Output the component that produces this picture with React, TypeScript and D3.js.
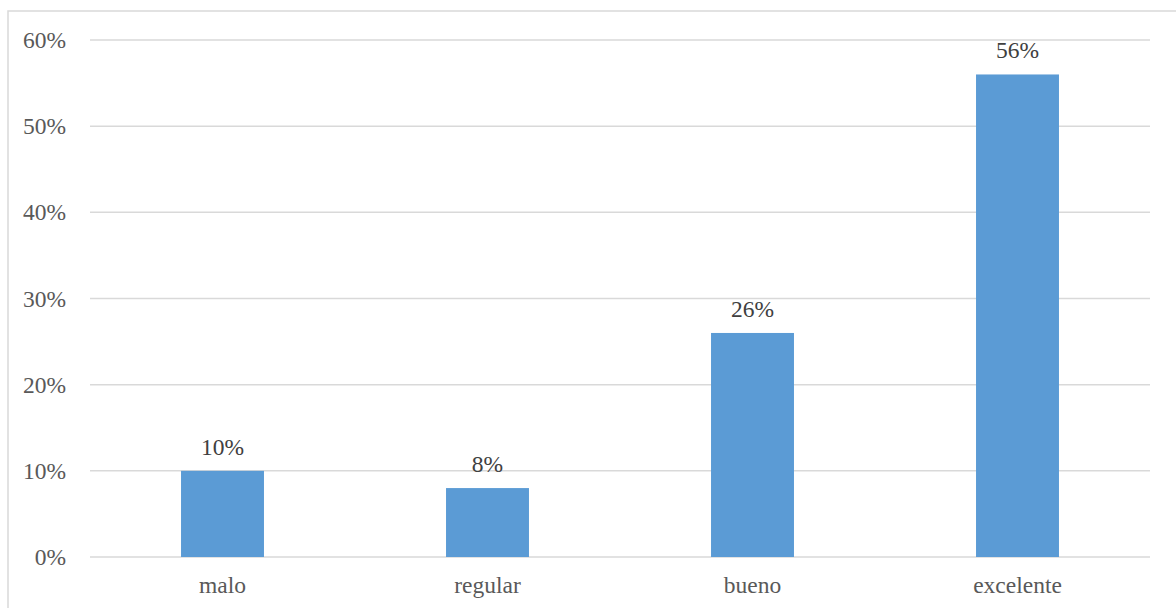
import React from "react";
import * as d3 from "d3";

const categories = ["malo", "regular", "bueno", "excelente"];
const values = [0.10, 0.08, 0.26, 0.56];
const yTicks = [0, 0.1, 0.2, 0.3, 0.4, 0.5, 0.6];

const W = 1176;
const H = 608;
const margin = { left: 90, right: 26, top: 40, bottom: 51 };

export default function App() {
  const x = d3
    .scaleBand<string>()
    .domain(categories)
    .range([margin.left, W - margin.right])
    .paddingInner(0.687)
    .paddingOuter(0.3435);
  const y = d3
    .scaleLinear()
    .domain([0, 0.6])
    .range([H - margin.bottom, margin.top]);
  const fmt = d3.format(".0%");
  const textStyle = { fontFamily: "Liberation Serif", fontSize: 23.5 };

  return (
    <div style={{ position: "absolute", left: 0, top: 0 }}>
      <svg width={W} height={H} style={{ display: "block" }}>
        <rect x={0} y={0} width={W} height={H} fill="#ffffff" />
        <rect
          x={8}
          y={11}
          width={W + 10}
          height={H + 10}
          fill="none"
          stroke="#d9d9d9"
          strokeWidth={1.5}
        />
        {yTicks.map((t) => (
          <g key={t}>
            <line
              x1={margin.left}
              x2={W - margin.right}
              y1={y(t)}
              y2={y(t)}
              stroke="#d9d9d9"
              strokeWidth={1.5}
            />
            <text
              x={66}
              y={y(t) + 8}
              textAnchor="end"
              style={textStyle}
              fill="#595959"
            >
              {fmt(t)}
            </text>
          </g>
        ))}
        {categories.map((c, i) => (
          <g key={c}>
            <rect
              x={x(c)}
              y={y(values[i])}
              width={x.bandwidth()}
              height={y(0) - y(values[i])}
              fill="#5b9bd5"
            />
            <text
              x={(x(c) as number) + x.bandwidth() / 2}
              y={y(values[i]) - 16}
              textAnchor="middle"
              style={textStyle}
              fill="#404040"
            >
              {fmt(values[i])}
            </text>
            <text
              x={(x(c) as number) + x.bandwidth() / 2}
              y={y(0) + 36}
              textAnchor="middle"
              style={textStyle}
              fill="#595959"
            >
              {c}
            </text>
          </g>
        ))}
      </svg>
    </div>
  );
}
